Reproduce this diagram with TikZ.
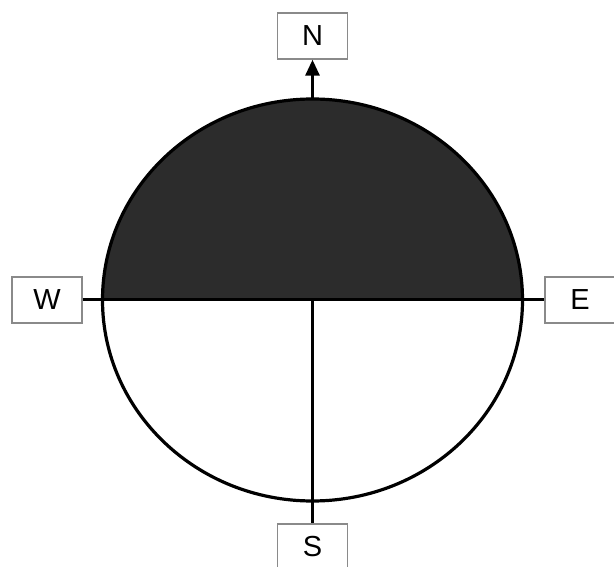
\documentclass[tikz,border=0pt]{standalone}
\usepackage{fontspec}
\setmainfont{Liberation Sans}
\usepackage{xcolor}
\usetikzlibrary{arrows.meta}
\definecolor{DialShade}{HTML}{2C2C2C}
\definecolor{DialBox}{HTML}{8A8A8A}

\begin{document}
\begin{tikzpicture}[x=1pt,y=1pt,
  dirbox/.style={draw=DialBox,line width=1.4pt,fill=white,minimum width=70pt,minimum height=46pt,inner sep=0pt,font=\fontsize{29}{32}\selectfont},
  axis/.style={line width=3pt}]
\path[use as bounding box] (0,0) rectangle (614,566);
\coordinate (o) at (312.5,266);
\coordinate (top) at (312.5,467);
% shaded upper half and the outline
\fill[DialShade] (o) ++(-210,0) arc[start angle=180,end angle=0,x radius=210,y radius=201] -- cycle;
\draw[line width=3.2pt] (o) ellipse[x radius=210,y radius=201];
\node[dirbox] (N) at (312.5,530) {N};
\node[dirbox] (W) at (47,266) {W};
\node[dirbox] (E) at (580,266) {E};
\node[dirbox] (S) at (312.5,19) {S};
\draw[axis] (W.east) -- (E.west);
\draw[axis] (o) -- (S.north);
\draw[axis,-{Triangle[length=16pt,width=14pt]}] (top) -- (N.south);
\end{tikzpicture}
\end{document}
